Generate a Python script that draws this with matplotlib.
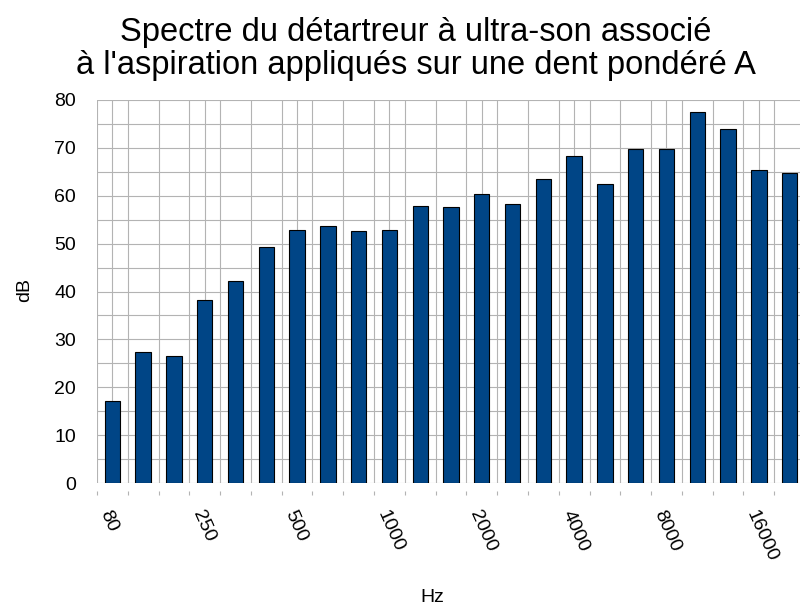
import matplotlib
matplotlib.use("Agg")
import matplotlib.pyplot as plt
import numpy as np

plt.rcParams['font.family'] = ['Liberation Sans', 'DejaVu Sans']

categories = ["80", "125", "160", "250", "315", "400", "500", "630", "800", "1000",
              "1250", "1600", "2000", "2500", "3150", "4000", "5000", "6300", "8000",
              "10000", "12500", "16000", "20000"]
values = [17.2, 27.3, 26.6, 38.2, 42.2, 49.2, 52.9, 53.6, 52.6, 52.9,
          57.9, 57.7, 60.3, 58.2, 63.5, 68.2, 62.5, 69.7, 69.7, 77.5,
          73.9, 65.3, 64.7]
title = "Spectre du détartreur à ultra-son associé\nà l'aspiration appliqués sur une dent pondéré A"

fig = plt.figure(figsize=(8, 6.07), dpi=100)
ax = fig.add_axes([97/800, (607-483)/607, 708/800, (483-100)/607])
for s in ax.spines.values():
    s.set_visible(False)
ax.spines["bottom"].set_position(("outward", 6))

x = np.arange(len(categories))
ax.bar(x, values, width=0.5, color="#004586", edgecolor="black", linewidth=0.8, zorder=3)

ax.set_xlim(-0.5, len(categories) - 0.5)
ax.set_ylim(0, 80)
ax.set_yticks(np.arange(0, 81, 10))
ax.set_yticks(np.arange(0, 81, 5), minor=True)
ax.set_xticks(x[::3])
ax.set_xticks(np.arange(-0.5, len(categories), 1), minor=True)
ax.set_xticklabels(categories[::3], rotation=-66, ha="left", va="top",
                   rotation_mode="anchor", fontsize=14)

ax.grid(True, which="both", axis="both", color="#b3b3b3", linewidth=0.8, zorder=0)
ax.set_axisbelow(True)

ax.tick_params(axis="x", which="major", length=0, pad=12)
ax.tick_params(axis="x", which="minor", length=3, color="#b3b3b3", width=0.8)
ax.tick_params(axis="y", which="both", length=0, pad=15, labelsize=14)

fig.text(416/800, 1 - 49/607, title, ha="center", va="center", fontsize=23.5, linespacing=1.07)
fig.text(25/800, 1 - 290/607, "dB", rotation=90, ha="center", va="center", fontsize=14)
fig.text(432/800, 1 - 597/607, "Hz", ha="center", va="center", fontsize=14)

fig.savefig("out.png", dpi=100)
